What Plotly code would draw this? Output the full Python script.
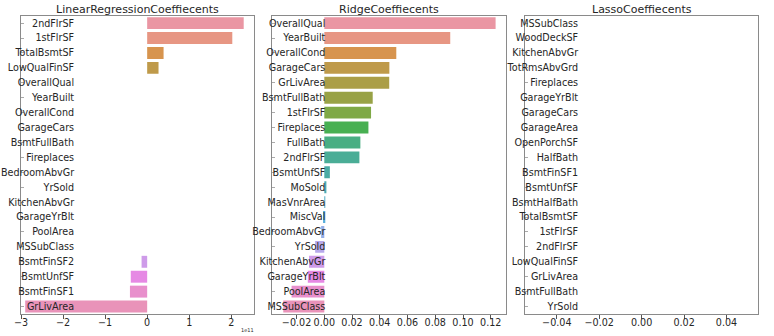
import math
import colorsys
import plotly.graph_objects as go

# ---------------- data ----------------
lr_features = ["2ndFlrSF", "1stFlrSF", "TotalBsmtSF", "LowQualFinSF", "OverallQual",
               "YearBuilt", "OverallCond", "GarageCars", "BsmtFullBath", "Fireplaces",
               "BedroomAbvGr", "YrSold", "KitchenAbvGr", "GarageYrBlt", "PoolArea",
               "MSSubClass", "BsmtFinSF2", "BsmtUnfSF", "BsmtFinSF1", "GrLivArea"]
lr_coef = [2.295e11, 2.024e11, 0.39e11, 0.27e11, 0.0,
           0.0, 0.0, 0.0, 0.0, 0.0,
           0.0, 0.0, 0.0, 0.0, 0.0,
           0.0, -0.133e11, -0.39e11, -0.41e11, -2.9e11]

ridge_features = ["OverallQual", "YearBuilt", "OverallCond", "GarageCars", "GrLivArea",
                  "BsmtFullBath", "1stFlrSF", "Fireplaces", "FullBath", "2ndFlrSF",
                  "BsmtUnfSF", "MoSold", "MasVnrArea", "MiscVal", "BedroomAbvGr",
                  "YrSold", "KitchenAbvGr", "GarageYrBlt", "PoolArea", "MSSubClass"]
ridge_coef = [0.1235, 0.0908, 0.0519, 0.0469, 0.0468,
              0.0349, 0.0337, 0.0318, 0.0260, 0.0253,
              0.0040, 0.0015, 0.0001, -0.0009, -0.0023,
              -0.0066, -0.0110, -0.0119, -0.0236, -0.0296]

lasso_features = ["MSSubClass", "WoodDeckSF", "KitchenAbvGr", "TotRmsAbvGrd", "Fireplaces",
                  "GarageYrBlt", "GarageCars", "GarageArea", "OpenPorchSF", "HalfBath",
                  "BsmtFinSF1", "BsmtUnfSF", "BsmtHalfBath", "TotalBsmtSF", "1stFlrSF",
                  "2ndFlrSF", "LowQualFinSF", "GrLivArea", "BsmtFullBath", "YrSold"]
lasso_coef = [0.0] * 20

titles = ["LinearRegressionCoeffiecents", "RidgeCoeffiecents", "LassoCoeffiecents"]
lr_scale = 1e11

# ---------------- husl palette (seaborn default for many categories) ----------------
_m = [[3.2406, -1.5372, -0.4986],
      [-0.9689, 1.8758, 0.0415],
      [0.0557, -0.2040, 1.0570]]
_refU, _refV = 0.19784, 0.46834


def _max_chroma(L, H):
    hrad = math.radians(H)
    sinH, cosH = math.sin(hrad), math.cos(hrad)
    sub1 = (L + 16) ** 3 / 1560896.0
    sub2 = sub1 if sub1 > 0.008856 else L / 903.3
    result = float("inf")
    for m1, m2, m3 in _m:
        top = (0.99915 * m1 + 1.05122 * m2 + 1.14460 * m3) * sub2
        rbottom = 0.86330 * m3 - 0.17266 * m2
        lbottom = 0.12949 * m3 - 0.38848 * m1
        bottom = (rbottom * sinH + lbottom * cosH) * sub2
        for t in (0.0, 1.0):
            C = L * (top - 1.05122 * t) / (bottom + 0.17266 * sinH * t)
            if 0.0 < C < result:
                result = C
    return result


def _husl_to_rgb(H, S, L):
    C = _max_chroma(L, H) / 100.0 * S
    hr = math.radians(H)
    U, V = math.cos(hr) * C, math.sin(hr) * C
    t = (L + 16.0) / 116.0
    Y = t ** 3 if t ** 3 > 0.008856 else (116.0 * t - 16.0) / 903.3
    varU = U / (13.0 * L) + _refU
    varV = V / (13.0 * L) + _refV
    X = 0.0 - (9.0 * Y * varU) / ((varU - 4.0) * varV - varU * varV)
    Z = (9.0 * Y - 15.0 * varV * Y - varV * X) / (3.0 * varV)
    out = []
    for row in _m:
        c = row[0] * X + row[1] * Y + row[2] * Z
        c = 12.92 * c if c <= 0.0031308 else 1.055 * c ** (1 / 2.4) - 0.055
        out.append(min(max(c, 0.0), 1.0))
    return out


def seaborn_colors(n, h=.01, s=.9, l=.7, sat=.75):
    cols = []
    for i in range(n):
        hue = ((i / n) + h) % 1 * 359
        r, g, b = _husl_to_rgb(hue, s * 99, l * 99)
        hh, ll, ss = colorsys.rgb_to_hls(r, g, b)
        r, g, b = colorsys.hls_to_rgb(hh, ll, ss * sat)
        cols.append("rgb(%d,%d,%d)" % (round(r * 255), round(g * 255), round(b * 255)))
    return cols


# ---------------- figure ----------------
W, H = 774, 336
FONT = "DejaVu Sans"
x_dom_px = [(21, 254), (272.3, 506), (525, 758.3)]
y_dom = [1 - 314 / H, 1 - 15.7 / H]

fig = go.Figure()
fig.add_trace(go.Bar(x=[v / lr_scale for v in lr_coef], y=lr_features, orientation="h",
                     marker=dict(color=seaborn_colors(len(lr_features)), line_width=0),
                     width=0.8, xaxis="x", yaxis="y", showlegend=False))
fig.add_trace(go.Bar(x=ridge_coef, y=ridge_features, orientation="h",
                     marker=dict(color=seaborn_colors(len(ridge_features)), line_width=0),
                     width=0.8, xaxis="x2", yaxis="y2", showlegend=False))
fig.add_trace(go.Bar(x=lasso_coef, y=lasso_features, orientation="h",
                     marker=dict(color=seaborn_colors(len(lasso_features)), line_width=0),
                     width=0.8, xaxis="x3", yaxis="y3", showlegend=False))

x_ranges = [[-3.0, 2.54], [-0.0375, 0.131], [-0.055, 0.055]]
x_ticks = [dict(tickvals=[-3, -2, -1, 0, 1, 2], tickformat="d"),
           dict(tickvals=[-0.02, 0, 0.02, 0.04, 0.06, 0.08, 0.10, 0.12], tickformat=".2f"),
           dict(tickvals=[-0.04, -0.02, 0, 0.02, 0.04], tickformat=".2f")]

layout = dict(template="none", width=W, height=H, margin=dict(l=0, r=0, t=0, b=0, pad=0),
              paper_bgcolor="white", plot_bgcolor="white", bargap=0.2,
              font=dict(family=FONT, color="#262626", size=9.6))
ann = []
for i in range(3):
    sx = "" if i == 0 else str(i + 1)
    x0, x1 = x_dom_px[i]
    layout["xaxis" + sx] = dict(domain=[x0 / W, x1 / W], anchor="y" + sx, range=x_ranges[i],
                               automargin=False,
                               showgrid=False, zeroline=False, showline=True, mirror=True,
                               linecolor="#8a8a8a", linewidth=1, ticks="outside", ticklen=3.5,
                               tickcolor="#555", ticklabelstandoff=-4,
                               tickfont=dict(size=9.6, family=FONT, color="#262626"),
                               **x_ticks[i])
    layout["yaxis" + sx] = dict(domain=y_dom, anchor="x" + sx, range=[19.5, -0.5], type="category",
                               automargin=False,
                               showgrid=False, zeroline=False, showline=True, mirror=True,
                               linecolor="#8a8a8a", linewidth=1, ticks="inside", ticklen=3,
                               tickcolor="#aaa", ticklabelstandoff=-56,
                               tickfont=dict(size=9.6, family=FONT, color="#262626"))
    ann.append(dict(text=titles[i], xref="paper", yref="paper", x=(x0 + x1) / 2 / W,
                    y=1 - 9 / H, xanchor="center", yanchor="middle", showarrow=False,
                    font=dict(size=11, family=FONT, color="#262626")))
ann.append(dict(text="1e11", xref="paper", yref="paper", x=256 / W, y=1 - 329.5 / H,
                xanchor="right", yanchor="middle", showarrow=False,
                font=dict(size=5, family=FONT, color="#262626")))
layout["annotations"] = ann
fig.update_layout(**layout)
fig.write_html("out.html")
